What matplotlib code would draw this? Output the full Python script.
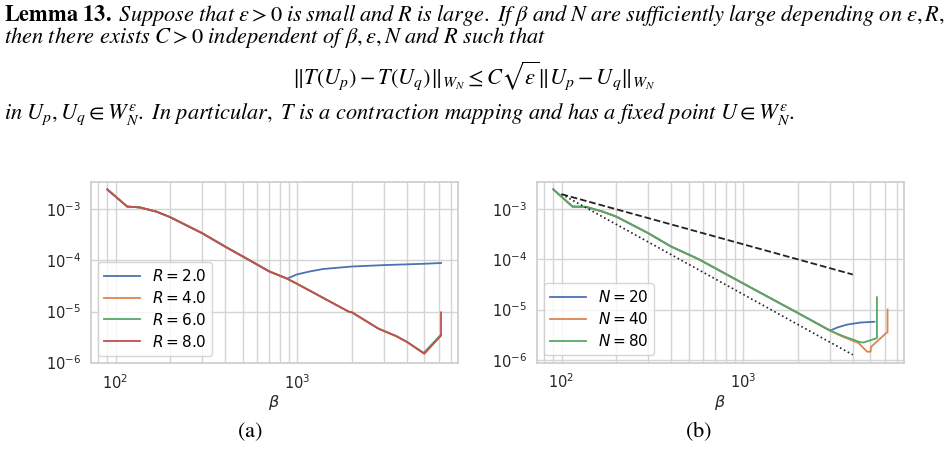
import matplotlib
matplotlib.use("Agg")
import matplotlib.pyplot as plt
from matplotlib.ticker import NullFormatter

# ---------------------------------------------------------------------
# data
# ---------------------------------------------------------------------
# (a) error vs beta for several R; all curves share the head
R_LABELS = [r"$R = 2.0$", r"$R = 4.0$", r"$R = 6.0$", r"$R = 8.0$"]
BETA_A_HEAD = [90, 116, 136, 168, 200, 300, 400, 548, 700, 878]
ERR_A_HEAD = [2.45e-3, 1.13e-3, 1.09e-3, 9.0e-4, 7.0e-4, 3.4e-4, 1.87e-4,
              1.0e-4, 6.1e-5, 4.4e-5]

BETA_R2 = [992, 1175, 1390, 2000, 3000, 4990, 6170]
ERR_R2 = [5.3e-5, 6.1e-5, 6.8e-5, 7.6e-5, 8.1e-5, 8.6e-5, 8.9e-5]

BETA_R4 = [1000, 1910, 2000, 2800, 3500, 4000, 4990, 6170]
ERR_R4 = [3.46e-5, 1.0e-5, 9.6e-6, 4.6e-6, 3.3e-6, 2.55e-6, 1.5e-6, 3.4e-6]

BETA_R6 = [1000, 1910, 2000, 2800, 3500, 4000, 4950, 6150]
ERR_R6 = [3.46e-5, 1.0e-5, 9.6e-6, 4.6e-6, 3.3e-6, 2.55e-6, 1.55e-6, 3.5e-6]

BETA_R8 = [1000, 1910, 2000, 2800, 3500, 4000, 4990, 6170, 6170]
ERR_R8 = [3.46e-5, 1.0e-5, 9.6e-6, 4.6e-6, 3.3e-6, 2.55e-6, 1.5e-6, 3.4e-6, 9.6e-6]

# (b) error vs beta for several N
N_LABELS = [r"$N = 20$", r"$N = 40$", r"$N = 80$"]
BETA_B_HEAD = [90, 115, 136, 168, 200, 300, 400, 571, 1000, 2000, 3000]
ERR_B_HEAD = [2.5e-3, 1.13e-3, 1.12e-3, 9.0e-4, 7.15e-4, 3.33e-4, 1.81e-4,
              1.0e-4, 3.3e-5, 8.5e-6, 3.8e-6]

BETA_N20 = [3300, 3710, 4390, 5260]
ERR_N20 = [4.4e-6, 5.0e-6, 5.5e-6, 5.7e-6]

BETA_N40 = [3500, 4300, 4800, 5010, 5040, 6110, 6210, 6210]
ERR_N40 = [2.9e-6, 2.15e-6, 1.44e-6, 1.44e-6, 1.8e-6, 3.4e-6, 3.5e-6, 1.0e-5]

BETA_N80 = [3500, 4390, 4580, 5290, 5430, 5430]
ERR_N80 = [3.0e-6, 2.23e-6, 2.2e-6, 2.6e-6, 2.7e-6, 1.76e-5]

# reference slopes (endpoints)
BETA_REF = [100, 4000]
ERR_DASHED = [2.0e-3, 5.0e-5]
ERR_DOTTED = [2.0e-3, 1.25e-6]

# text of the page around the figure (mathtext)
LINE1_WORDS = [r"\mathbf{Lemma\ 13.}", r"\mathit{Suppose}", r"\mathit{that}",
               r"\varepsilon>0", r"\mathit{is}", r"\mathit{small}", r"\mathit{and}", "R",
               r"\mathit{is}", r"\mathit{large.}", r"\mathit{If}", r"\beta", r"\mathit{and}",
               "N", r"\mathit{are}", r"\mathit{sufficiently}", r"\mathit{large}",
               r"\mathit{depending}", r"\mathit{on}", r"\varepsilon,R,"]
LINE2 = (r"\mathit{then\ there\ exists}\ C>0\ \mathit{independent\ of}\ "
         r"\beta,\varepsilon,N\ \mathit{and}\ R\ \mathit{such\ that}")
EQUATION = (r"\Vert T(U_p)-T(U_q)\Vert_{W_N}\leq C\sqrt{\varepsilon}"
            r"\Vert U_p-U_q\Vert_{W_N}")
LINE4 = (r"\mathit{in}\ U_p,U_q\in W_N^{\varepsilon}.\ \mathit{In\ particular,}\ T\ "
         r"\mathit{is\ a\ contraction\ mapping\ and\ has\ a\ fixed\ point}\ "
         r"U\in W_N^{\varepsilon}.")

COLORS = ["#4c72b0", "#dd8452", "#55a868", "#c44e52"]
GRAY_TXT = "#262626"
GRID = "#d4d4d4"

plt.rcParams.update({
    "axes.edgecolor": "#cccccc",
    "axes.linewidth": 1.2,
    "xtick.color": GRAY_TXT,
    "ytick.color": GRAY_TXT,
    "axes.labelcolor": GRAY_TXT,
    "legend.edgecolor": "#cccccc",
})

W, H = 947, 466
fig = plt.figure(figsize=(W / 100, H / 100), dpi=100)


def style_axes(ax, ylim):
    ax.set_xscale("log")
    ax.set_yscale("log")
    ax.set_xlim(73, 7650)
    ax.set_ylim(*ylim)
    ax.grid(True, which="major", color=GRID, linewidth=1.0)
    ax.grid(True, which="minor", axis="x", color=GRID, linewidth=1.0)
    ax.set_axisbelow(True)
    ax.xaxis.set_minor_formatter(NullFormatter())
    ax.yaxis.set_minor_formatter(NullFormatter())
    ax.tick_params(which="both", length=0, pad=7, labelsize=10.5)
    ax.set_xlabel(r"$\beta$", fontsize=11.5, labelpad=1)


def add_legend(ax):
    ax.legend(loc="lower left", fontsize=11, framealpha=0.8, borderaxespad=0.5,
              handlelength=2.3, handletextpad=0.8, labelspacing=0.38)


# ----- (a) -----
ax_a = fig.add_axes([90.7 / W, 1 - 363.3 / H, 367.3 / W, 181.6 / H])
tails_a = [(BETA_R2, ERR_R2), (BETA_R4, ERR_R4), (BETA_R6, ERR_R6), (BETA_R8, ERR_R8)]
for (bt, et), lab, col in zip(tails_a, R_LABELS, COLORS):
    ax_a.plot(BETA_A_HEAD + bt, ERR_A_HEAD + et, color=col, lw=1.3, label=lab)
style_axes(ax_a, (0.97e-6, 3.47e-3))
add_legend(ax_a)

# ----- (b) -----
ax_b = fig.add_axes([536.7 / W, 1 - 362.7 / H, 367.3 / W, 181.0 / H])
tails_b = [(BETA_N20, ERR_N20), (BETA_N40, ERR_N40), (BETA_N80, ERR_N80)]
for (bt, et), lab, col in zip(tails_b, N_LABELS, COLORS):
    ax_b.plot(BETA_B_HEAD + bt, ERR_B_HEAD + et, color=col, lw=1.3, label=lab)
ax_b.plot(BETA_REF, ERR_DASHED, color="#222222", ls="--", lw=1.3)
ax_b.plot(BETA_REF, ERR_DOTTED, color="#222222", ls=":", lw=1.2)
style_axes(ax_b, (0.87e-6, 3.55e-3))
add_legend(ax_b)

# ---------------------------------------------------------------------
# page text
# ---------------------------------------------------------------------
renderer = fig.canvas.get_renderer()
TXT = dict(color="black", math_fontfamily="stix")

t4 = fig.text(4 / W, 1 - 119.3 / H, "$" + LINE4 + "$", fontsize=12,
              ha="left", va="baseline", **TXT)
w4 = t4.get_window_extent(renderer).width
size = 12 * 788 / w4
t4.set_fontsize(size)

fig.text(4 / W, 1 - 43.3 / H, "$" + LINE2 + "$", fontsize=size,
         ha="left", va="baseline", **TXT)
fig.text(0.5, 1 - 76 / H, "$" + EQUATION + "$", fontsize=size,
         ha="center", va="center", **TXT)


def line1(h):
    return "$" + (r"\hspace{%.3f}" % h).join(LINE1_WORDS) + "$"


t1 = fig.text(4 / W, 1 - 20.7 / H, line1(0.4), fontsize=size,
              ha="left", va="baseline", **TXT)
w_lo = t1.get_window_extent(renderer).width
t1.set_text(line1(1.0))
w_hi = t1.get_window_extent(renderer).width
h = 0.4 + (941 - w_lo) * 0.6 / (w_hi - w_lo)
t1.set_text(line1(h))

fig.text(250 / W, 1 - 437 / H, r"$\mathrm{(a)}$", fontsize=size,
         ha="center", va="baseline", **TXT)
fig.text(699 / W, 1 - 437 / H, r"$\mathrm{(b)}$", fontsize=size,
         ha="center", va="baseline", **TXT)

fig.savefig("out.png", dpi=100)
